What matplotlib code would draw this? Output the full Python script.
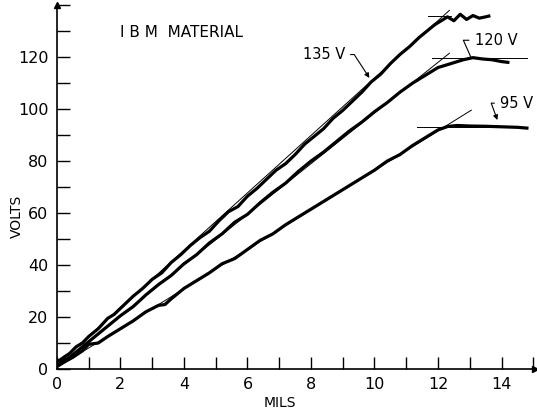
import matplotlib.pyplot as plt
from matplotlib.ticker import MultipleLocator, FixedLocator

# traces (mils, volts)
mils_135 = [0.0, 0.1, 0.25, 0.4, 0.6, 0.8, 1.0, 1.3, 1.6, 1.8, 2.1, 2.4, 2.7, 3.0,
            3.3, 3.6, 3.9, 4.2, 4.5, 4.8, 5.1, 5.4, 5.7, 6.0, 6.3, 6.6, 6.9, 7.2,
            7.5, 7.8, 8.1, 8.4, 8.7, 9.0, 9.3, 9.6, 9.9, 10.2, 10.5, 10.8, 11.1,
            11.4, 11.7, 11.9, 12.1, 12.3, 12.5, 12.7, 12.9, 13.1, 13.3, 13.5, 13.6]
volts_135 = [3.0, 3.5, 4.8, 6.0, 8.5, 10.0, 12.5, 15.5, 19.5, 21.0, 24.5, 28.0, 31.0,
             34.5, 37.0, 41.0, 44.0, 47.5, 50.5, 53.0, 57.0, 60.5, 62.5, 66.5, 69.5,
             73.0, 76.5, 79.0, 82.5, 86.5, 89.5, 92.5, 96.5, 99.5, 103.0, 106.5,
             110.5, 113.5, 117.5, 121.0, 124.0, 127.5, 130.5, 132.5, 134.0, 135.5,
             134.0, 136.5, 134.5, 136.0, 135.0, 135.5, 135.8]

mils_120 = [0.0, 0.2, 0.4, 0.7, 1.0, 1.3, 1.6, 2.0, 2.4, 2.8, 3.2, 3.6, 4.0, 4.4,
            4.8, 5.2, 5.6, 6.0, 6.4, 6.8, 7.2, 7.6, 8.0, 8.4, 8.8, 9.2, 9.6, 10.0,
            10.4, 10.8, 11.2, 11.6, 12.0, 12.4, 12.8, 13.1, 13.4, 13.7, 14.0, 14.2]
volts_120 = [1.5, 3.0, 4.5, 7.5, 10.5, 13.5, 16.5, 20.5, 24.0, 28.5, 32.5, 36.0,
             40.5, 44.0, 48.5, 52.0, 56.5, 59.5, 64.0, 68.0, 71.5, 76.0, 80.0, 83.5,
             87.5, 91.5, 95.0, 99.0, 102.5, 106.5, 110.0, 113.0, 116.0, 117.5,
             119.0, 119.8, 119.3, 119.0, 118.3, 118.0]

mils_95 = [0.0, 0.2, 0.5, 0.8, 1.0, 1.3, 1.6, 2.0, 2.4, 2.8, 3.2, 3.4, 3.6, 4.0,
           4.4, 4.8, 5.2, 5.6, 6.0, 6.4, 6.8, 7.2, 7.6, 8.0, 8.4, 8.8, 9.2, 9.6,
           10.0, 10.4, 10.8, 11.2, 11.6, 12.0, 12.3, 12.6, 13.0, 13.5, 14.0, 14.5, 14.8]
volts_95 = [1.0, 2.5, 4.5, 7.0, 9.5, 10.0, 12.5, 15.5, 18.5, 22.0, 24.5, 24.8, 27.0,
            31.0, 34.0, 37.0, 40.5, 42.5, 46.0, 49.5, 52.0, 55.5, 58.5, 61.5, 64.5,
            67.5, 70.5, 73.5, 76.5, 80.0, 82.5, 86.0, 89.0, 92.0, 93.3, 93.7, 93.5,
            93.4, 93.2, 93.0, 92.7]

# thin construction lines: slope and level
fit_135_x, fit_135_v = [0.0, 12.36], [1.5, 138.0]
fit_120_x, fit_120_v = [0.0, 12.36], [1.0, 121.5]
fit_95_x, fit_95_v = [0.0, 13.05], [0.5, 99.6]
level_135_x, level_135_v = [11.7, 12.4], [135.8, 135.8]
level_120_x, level_120_v = [11.8, 14.8], [119.5, 119.5]
level_95_x, level_95_v = [11.35, 14.8], [93.2, 93.2]

volt_labels = [0, 20, 40, 60, 80, 100, 120]

fig = plt.figure(figsize=(5.37, 4.13), dpi=100)
ax = fig.add_axes([0.106, 0.1065, 0.890, 0.881])

for xs, vs in [(fit_135_x, fit_135_v), (fit_120_x, fit_120_v), (fit_95_x, fit_95_v),
               (level_135_x, level_135_v), (level_120_x, level_120_v),
               (level_95_x, level_95_v)]:
    ax.plot(xs, vs, color='k', lw=0.7)

for xs, vs in [(mils_135, volts_135), (mils_120, volts_120), (mils_95, volts_95)]:
    ax.plot(xs, vs, color='k', lw=2.3, solid_joinstyle='round')

ax.set_xlim(0, 15.05)
ax.set_ylim(0, 140)

for side in ['top', 'right']:
    ax.spines[side].set_visible(False)
for side in ['left', 'bottom']:
    ax.spines[side].set_linewidth(1.2)

ax.plot(1, 0, '>k', ms=5, transform=ax.transAxes, clip_on=False)
ax.plot(0, 1, '^k', ms=5, transform=ax.transAxes, clip_on=False)

ax.xaxis.set_major_locator(MultipleLocator(2))
ax.xaxis.set_minor_locator(MultipleLocator(1))
ax.yaxis.set_major_locator(FixedLocator(volt_labels))
ax.yaxis.set_minor_locator(MultipleLocator(10))
ax.tick_params(which='both', direction='in', length=9, width=1.0, labelsize=11.5, pad=6)

ax.set_xlabel('MILS', fontsize=10)
ax.set_ylabel('VOLTS', fontsize=10)
ax.xaxis.set_label_coords(0.467, -0.073)
ax.yaxis.set_label_coords(-0.07, 0.42)

ax.text(1.98, 129.6, 'I B M  MATERIAL', fontsize=11, va='center')

arrow = dict(arrowstyle='-|>', color='k', lw=0.8, mutation_scale=7, shrinkA=2, shrinkB=0)
ax.annotate('135 V', xy=(9.84, 112), xytext=(7.74, 121), fontsize=10.5, va='center',
            arrowprops=dict(arrow, connectionstyle='angle,angleA=0,angleB=-57,rad=0'))
ax.annotate('120 V', xy=(13.05, 119.6), xytext=(13.15, 126.5), fontsize=10.5, va='center',
            arrowprops=dict(arrow, arrowstyle='-', connectionstyle='angle,angleA=0,angleB=-66,rad=0'))
ax.annotate('95 V', xy=(13.87, 95.8), xytext=(13.95, 102.3), fontsize=10.5, va='center',
            arrowprops=dict(arrow, connectionstyle='angle,angleA=0,angleB=-70,rad=0'))

fig.savefig('out.png', dpi=100)
